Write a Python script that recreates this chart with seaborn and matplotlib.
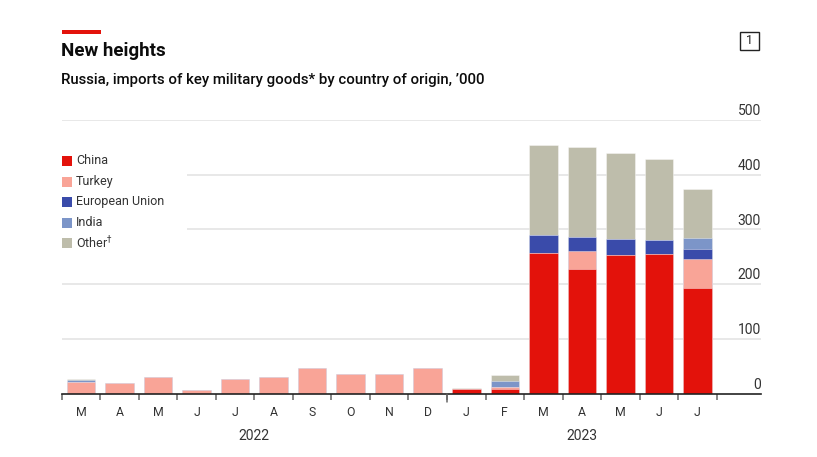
import matplotlib
matplotlib.use("Agg")
import matplotlib.pyplot as plt
from matplotlib.patches import Rectangle
import numpy as np
import pandas as pd
import seaborn as sns

# ---- data ----
months = ["2022-03", "2022-04", "2022-05", "2022-06", "2022-07", "2022-08",
          "2022-09", "2022-10", "2022-11", "2022-12", "2023-01", "2023-02",
          "2023-03", "2023-04", "2023-05", "2023-06", "2023-07"]
month_labels = ["M", "A", "M", "J", "J", "A", "S", "O", "N", "D",
                "J", "F", "M", "A", "M", "J", "J"]
china = [0, 0, 0, 0, 0, 0, 0, 0, 0, 0, 8, 9, 257, 228, 253, 255, 192]
turkey = [21, 19, 30, 6, 26, 31, 47, 36, 36, 47, 1, 2, 0, 32, 0, 0, 53]
eu = [0, 0, 0, 0, 0, 0, 0, 0, 0, 0, 0, 0, 33, 26, 30, 26, 19]
india = [3, 0, 0, 0, 0, 0, 0, 0, 0, 0, 0, 12, 0, 0, 0, 0, 20]
other = [2, 0, 0, 0, 0, 0, 0, 0, 0, 0, 1, 11, 165, 164, 157, 148, 89]
series_names = ["China", "Turkey", "European Union", "India", "Other"]
years = ["2022", "2023"]
yticks = [0, 100, 200, 300, 400, 500]

colors = {"China": "#E3120B", "Turkey": "#F9A497", "European Union": "#3A4BAA",
          "India": "#7C95C8", "Other": "#BEBDAB"}

W, H = 817, 457
def fx(px): return px / W
def fy(py): return 1 - py / H

sns.set_theme(style="white")
plt.rcParams["font.family"] = ["Roboto", "DejaVu Sans"]

fig = plt.figure(figsize=(W / 100, H / 100), dpi=100)
left_px, right_px, top_px, bot_px = 61.7, 761, 120, 393.5
step_px = 38.53
ax = fig.add_axes([fx(left_px), fy(bot_px), (right_px - left_px) / W, (bot_px - top_px) / H])

df = pd.DataFrame({"month": months, "China": china, "Turkey": turkey,
                   "European Union": eu, "India": india, "Other": other})
# cumulative stacks, drawn back to front
cum = df[series_names].cumsum(axis=1)
for name in reversed(series_names):
    sns.barplot(x=df["month"], y=cum[name], order=months, color=colors[name],
                saturation=1, width=0.74, edgecolor=(1, 1, 1, 0.45), linewidth=0.6,
                ax=ax, zorder=3)

n = len(months)
xmax = -0.5 + (right_px - left_px) / step_px
ax.set_xlim(-0.5, xmax)
ax.set_ylim(0, 500)

# grid
for v in yticks[1:]:
    ax.axhline(v, color="#E2E2E2", lw=1.1, zorder=1)

for s in ["top", "right", "left"]:
    ax.spines[s].set_visible(False)
ax.spines["bottom"].set_color("#222222")
ax.spines["bottom"].set_linewidth(1.2)
ax.spines["bottom"].set_zorder(5)

ax.set_yticks([])
ax.set_xlabel("")
ax.set_ylabel("")

# y labels on right, above gridlines
for v in yticks:
    ax.text(1.0, v + 3, str(v), transform=ax.get_yaxis_transform(),
            ha="right", va="bottom", fontsize=10, color="#333333")

# x ticks: month labels at centres, tick marks at boundaries
ax.set_xticks(np.arange(n))
ax.set_xticklabels(month_labels, fontsize=8.8, color="#333333")
ax.tick_params(axis="x", which="major", bottom=True, length=0, pad=9)
bounds = np.arange(n + 1) - 0.5
ax.set_xticks(bounds, minor=True)
ax.tick_params(axis="x", which="minor", bottom=True, length=4.5, width=1.1,
               color="#666666", direction="out")
# longer tick at year boundary
ax.plot([9.5, 9.5], [0, -0.03], transform=ax.get_xaxis_transform(), clip_on=False,
        color="#666666", lw=1.1, zorder=6)

# year labels
ax.text(4.5, -0.155, years[0], transform=ax.get_xaxis_transform(), ha="center", va="center",
        fontsize=10, color="#333333")
ax.text(13, -0.155, years[1], transform=ax.get_xaxis_transform(), ha="center", va="center",
        fontsize=10, color="#333333")

# legend (manual) with white background covering gridlines
fig.add_artist(Rectangle((fx(47), fy(253)), fx(187) - fx(47), fy(148) - fy(253),
                         transform=fig.transFigure, facecolor="white", edgecolor="none", zorder=2))
row_y = [161, 181.5, 202, 222.5, 243]
for name, yy in zip(series_names, row_y):
    fig.add_artist(Rectangle((fx(62), fy(yy + 5)), 10 / W, 10 / H, transform=fig.transFigure,
                             facecolor=colors[name], edgecolor="none", zorder=3))
    label = name if name != "Other" else "Other$^{\\dagger}$"
    fig.text(fx(76), fy(yy), label, fontsize=9, color="#333333", va="center", ha="left", zorder=4)

# header
fig.add_artist(Rectangle((fx(62), fy(34)), 39 / W, 4 / H, transform=fig.transFigure,
                         facecolor="#E3120B", edgecolor="none"))
fig.text(fx(61), fy(51), "New heights", fontsize=13.5, fontweight="bold", color="#0C0C0C",
         va="center", ha="left")
fig.text(fx(61), fy(80), "Russia, imports of key military goods* by country of origin, \u2019000",
         fontsize=10.8, fontweight="medium", color="#0C0C0C", va="center", ha="left")
# chart number box
fig.add_artist(Rectangle((fx(740), fy(50)), 19 / W, 18 / H, transform=fig.transFigure,
                         facecolor="none", edgecolor="#222222", lw=1))
fig.text(fx(749.5), fy(41), "1", fontsize=9, color="#222222", ha="center", va="center")

fig.savefig("out.png", dpi=100, facecolor="white")
